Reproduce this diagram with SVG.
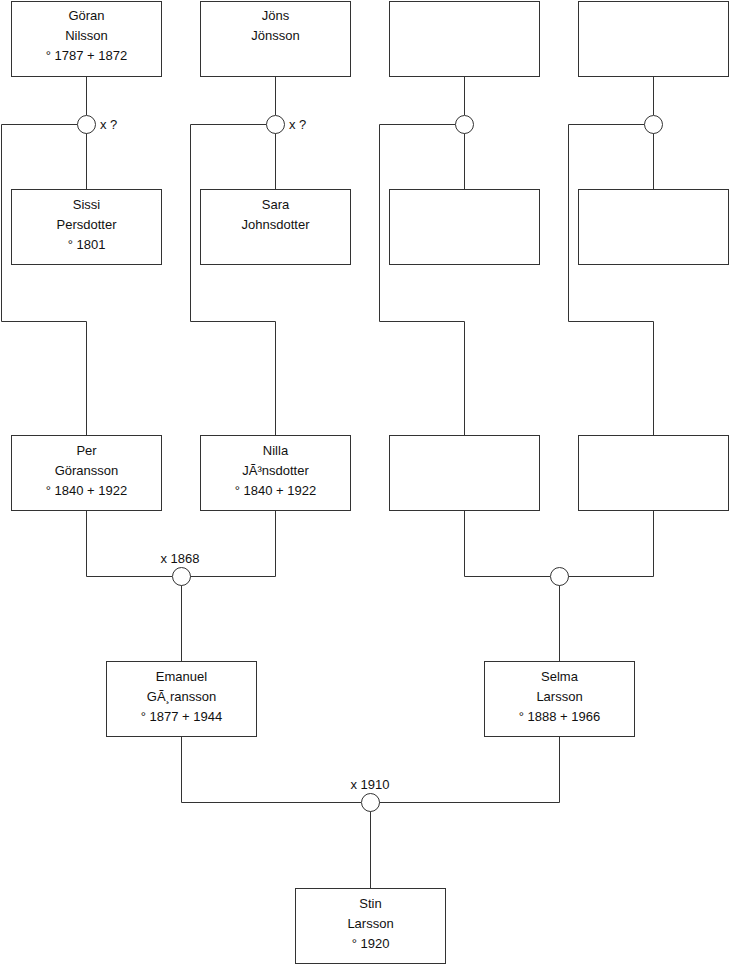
<svg xmlns="http://www.w3.org/2000/svg" width="740" height="975" viewBox="0 0 740 975">
<style>
.box{fill:#fff;stroke:#333;stroke-width:1}
.c{fill:#fff;stroke:#333;stroke-width:1}
.ln{fill:none;stroke:#333;stroke-width:1}
text{font-family:"Liberation Sans",Arial,sans-serif;font-size:13px;fill:#111}
.m{text-anchor:middle}
</style>
<rect width="740" height="975" fill="#fff"/>
<g id="connectors">
<path class="ln" d="M86.5 76V115M86.5 133V189M77.5 124.5H1.5V321.5H86.5V435"/>
<path class="ln" d="M275.5 76V115M275.5 133V189M266.5 124.5H190.5V321.5H275.5V435"/>
<path class="ln" d="M464.5 76V115M464.5 133V189M455.5 124.5H379.5V321.5H464.5V435"/>
<path class="ln" d="M653.5 76V115M653.5 133V189M644.5 124.5H568.5V321.5H653.5V435"/>
<path class="ln" d="M86.5 511V576.5H172M190 576.5H275.5V511M181.5 585V661"/>
<path class="ln" d="M464.5 511V576.5H550M568 576.5H653.5V511M559.5 585V661"/>
<path class="ln" d="M181.5 737V802.5H361M379 802.5H559.5V737M370.5 811V888"/>
</g>
<g id="m1"><circle class="c" cx="86.5" cy="124.5" r="9"/><text x="100" y="129">x ?</text></g>
<g id="m2"><circle class="c" cx="275.5" cy="124.5" r="9"/><text x="289" y="129">x ?</text></g>
<g id="m3"><circle class="c" cx="464.5" cy="124.5" r="9"/></g>
<g id="m4"><circle class="c" cx="653.5" cy="124.5" r="9"/></g>
<g id="m5"><circle class="c" cx="181.5" cy="576.5" r="9"/><text class="m" x="180" y="563">x 1868</text></g>
<g id="m6"><circle class="c" cx="559.5" cy="576.5" r="9"/></g>
<g id="m7"><circle class="c" cx="370.5" cy="802.5" r="9"/><text class="m" x="370" y="789">x 1910</text></g>
<g id="goran"><rect class="box" x="11.5" y="1.5" width="150" height="75"/><text class="m" x="86.5" y="20">Göran</text><text class="m" x="86.5" y="40">Nilsson</text><text class="m" x="86.5" y="60">° 1787 + 1872</text></g>
<g id="jons"><rect class="box" x="200.5" y="1.5" width="150" height="75"/><text class="m" x="275.5" y="20">Jöns</text><text class="m" x="275.5" y="40">Jönsson</text></g>
<g id="n3"><rect class="box" x="389.5" y="1.5" width="150" height="75"/></g>
<g id="n4"><rect class="box" x="578.5" y="1.5" width="150" height="75"/></g>
<g id="sissi"><rect class="box" x="11.5" y="189.5" width="150" height="75"/><text class="m" x="86.5" y="209">Sissi</text><text class="m" x="86.5" y="229">Persdotter</text><text class="m" x="86.5" y="249">° 1801</text></g>
<g id="sara"><rect class="box" x="200.5" y="189.5" width="150" height="75"/><text class="m" x="275.5" y="209">Sara</text><text class="m" x="275.5" y="229">Johnsdotter</text></g>
<g id="n7"><rect class="box" x="389.5" y="189.5" width="150" height="75"/></g>
<g id="n8"><rect class="box" x="578.5" y="189.5" width="150" height="75"/></g>
<g id="per"><rect class="box" x="11.5" y="435.5" width="150" height="75"/><text class="m" x="86.5" y="455">Per</text><text class="m" x="86.5" y="475">Göransson</text><text class="m" x="86.5" y="495">° 1840 + 1922</text></g>
<g id="nilla"><rect class="box" x="200.5" y="435.5" width="150" height="75"/><text class="m" x="275.5" y="455">Nilla</text><text class="m" x="275.5" y="475">JÃ³nsdotter</text><text class="m" x="275.5" y="495">° 1840 + 1922</text></g>
<g id="n11"><rect class="box" x="389.5" y="435.5" width="150" height="75"/></g>
<g id="n12"><rect class="box" x="578.5" y="435.5" width="150" height="75"/></g>
<g id="emanuel"><rect class="box" x="106.5" y="661.5" width="150" height="75"/><text class="m" x="181.5" y="681">Emanuel</text><text class="m" x="181.5" y="701">GÃ¸ransson</text><text class="m" x="181.5" y="721">° 1877 + 1944</text></g>
<g id="selma"><rect class="box" x="484.5" y="661.5" width="150" height="75"/><text class="m" x="559.5" y="681">Selma</text><text class="m" x="559.5" y="701">Larsson</text><text class="m" x="559.5" y="721">° 1888 + 1966</text></g>
<g id="stin"><rect class="box" x="295.5" y="888.5" width="150" height="75"/><text class="m" x="370.5" y="908">Stin</text><text class="m" x="370.5" y="928">Larsson</text><text class="m" x="370.5" y="948">° 1920</text></g>
</svg>
